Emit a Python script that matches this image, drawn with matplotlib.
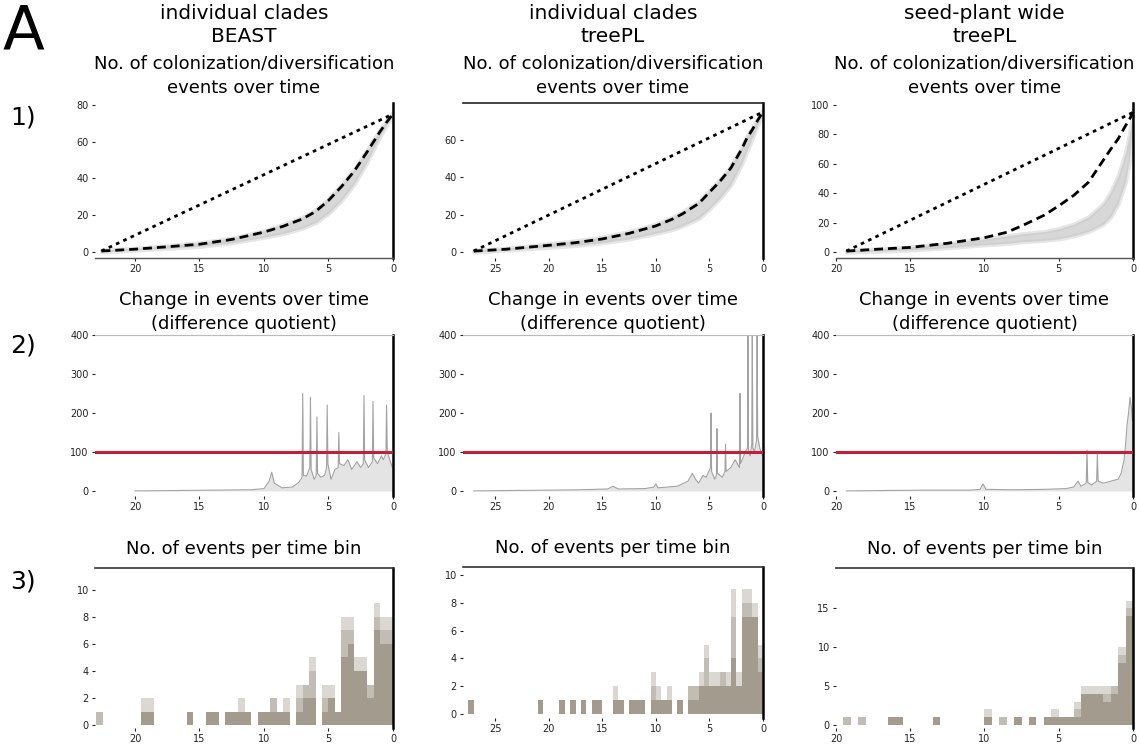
import matplotlib.pyplot as plt
import numpy as np

# ---- data ---------------------------------------------------------------
col_headers = ['individual clades\nBEAST', 'individual clades\ntreePL', 'seed-plant wide\ntreePL']

# row 1: cumulative events (dashed = mean curve, band = spread across trees)
ltt_beast_t = [22.6, 20, 17.5, 15, 12.5, 10, 8.5, 7, 6, 5, 4, 3, 2, 1.5, 1, 0.5, 0]
ltt_beast_mean = [0.5, 1.5, 2.8, 4.2, 6.8, 10.8, 14, 18, 22, 28, 35.5, 44, 54.5, 60, 65.5, 70.5, 75]
ltt_beast_lo = [0, 1, 2, 3, 5, 8, 10, 13, 16, 21, 28, 37, 49, 56, 63, 69, 75]
ltt_beast_hi = [1, 2, 3.5, 5, 7.5, 11.5, 15, 19, 23, 29, 36.5, 45, 55.5, 61, 66.5, 71.5, 76]

ltt_tpl_t = [27, 24, 20, 17.5, 15, 12.5, 10, 8.5, 7.5, 6, 5, 4, 3, 2, 1.5, 1, 0.5, 0]
ltt_tpl_mean = [0.5, 1.5, 3.6, 5, 7, 10, 14, 17.5, 20.5, 26, 32, 38, 45, 55, 61, 65.5, 70.5, 75]
ltt_tpl_lo = [0, 1, 2.5, 3.5, 5, 7, 10, 12, 14, 18, 23, 29, 36, 47, 54, 61, 68, 75]
ltt_tpl_hi = [1, 2, 4.5, 6, 8, 11, 15, 18.5, 21.5, 27, 33, 39, 46, 56, 62, 66.5, 71.5, 76]

ltt_seed_t = [19.3, 17.5, 15, 12.5, 10, 8.5, 7.5, 6, 5, 4, 3, 2, 1.5, 1, 0.5, 0.25, 0]
ltt_seed_mean = [0.7, 1.8, 3.2, 6, 9.8, 13.5, 17.8, 25, 31.5, 38.5, 47.5, 62.5, 70, 77, 86, 90, 95]
ltt_seed_lo = [0, 0.5, 1.5, 3, 5, 6, 7, 8, 9, 11, 14, 19, 24, 33, 48, 62, 90]
ltt_seed_hi = [1, 2, 3.5, 6, 9, 11, 12.5, 14, 16, 19, 24, 33, 41, 52, 68, 80, 95]

# row 2: difference quotient of the event curve
dq_beast_t = [20.0, 17.0, 14.0, 11.0, 10.0, 9.6, 9.4, 9.2, 8.6, 7.8, 7.3, 7.05, 7.0, 6.95, 6.7, 6.45,
              6.4, 6.35, 6.1, 5.95, 5.9, 5.85, 5.6, 5.3, 5.15, 5.1, 5.05, 4.8, 4.5, 4.25, 4.2, 4.15,
              3.8, 3.5, 3.2, 2.8, 2.5, 2.3, 2.25, 2.2, 1.9, 1.6, 1.55, 1.5, 1.2, 0.9, 0.75, 0.55,
              0.5, 0.45, 0.25, 0.05]
dq_beast_v = [0, 1, 2, 3, 6, 25, 48, 20, 8, 10, 22, 35, 250, 40, 38, 60,
              240, 55, 30, 40, 190, 45, 35, 40, 60, 220, 70, 30, 55, 60, 150, 70,
              65, 80, 55, 75, 60, 70, 245, 80, 60, 75, 230, 85, 70, 90, 80, 95,
              220, 100, 80, 60]

dq_tpl_t = [27.0, 24.0, 20.0, 17.0, 14.5, 14.0, 13.5, 11.0, 10.2, 10.0, 9.8, 8.0, 7.0, 6.6, 6.3, 6.0,
            5.6, 5.3, 4.9, 4.85, 4.8, 4.5, 4.35, 4.3, 4.25, 3.8, 3.55, 3.5, 3.45, 3.0, 2.6, 2.2,
            2.15, 2.1, 1.8, 1.45, 1.4, 1.35, 1.2, 1.05, 1.0, 0.95, 0.8, 0.6, 0.55, 0.5, 0.3, 0.05]
dq_tpl_v = [0, 1, 2, 3, 5, 12, 5, 6, 10, 18, 8, 12, 25, 45, 30, 20,
            40, 35, 60, 200, 50, 30, 40, 160, 45, 35, 50, 120, 50, 60, 80, 60,
            250, 70, 90, 110, 420, 100, 90, 120, 420, 110, 100, 130, 420, 140, 110, 90]

dq_seed_t = [19.3, 17.0, 14.0, 11.0, 10.3, 10.1, 9.9, 8.0, 6.0, 4.5, 4.0, 3.7, 3.5, 3.15, 3.1, 3.05,
             2.8, 2.45, 2.4, 2.35, 2.0, 1.5, 1.0, 0.8, 0.6, 0.5, 0.4, 0.3, 0.2, 0.1, 0.03]
dq_seed_v = [0, 1, 2, 2, 4, 18, 4, 3, 4, 6, 10, 25, 12, 20, 105, 22,
             15, 25, 95, 25, 20, 25, 30, 45, 80, 120, 170, 200, 240, 210, 180]

dq_threshold = 100

# row 3: events per 0.5 Myr bin, youngest bin first; three tree samples overlaid
bin_width = 0.5
hist_beast_lo = [6, 6, 7, 2, 4, 4, 6, 5, 1, 2, 1, 0, 2, 2, 1, 0, 1, 1, 1, 1, 1, 0, 1,
                 1, 1, 1, 0, 1, 1, 0, 0, 1, 0, 0, 0, 0, 0, 1, 1, 0, 0, 0, 0, 0, 0, 0]
hist_beast_mid = [7, 7, 8, 3, 4, 4, 7, 7, 1, 2, 2, 0, 4, 3, 2, 0, 1, 1, 2, 1, 1, 0, 1,
                  1, 1, 1, 0, 1, 1, 0, 0, 1, 0, 0, 0, 0, 0, 1, 1, 0, 0, 0, 0, 0, 0, 1]
hist_beast_hi = [8, 8, 9, 3, 5, 5, 8, 8, 1, 3, 3, 0, 5, 3, 3, 0, 2, 1, 2, 1, 1, 0, 1,
                 2, 1, 1, 0, 1, 1, 0, 0, 1, 0, 0, 0, 0, 0, 2, 2, 0, 0, 0, 0, 0, 0, 1]

hist_tpl_lo = [3, 7, 7, 7, 2, 4, 2, 2, 2, 2, 2, 2, 1, 1, 0, 1, 0, 1, 1, 1, 1, 0, 1, 1, 1, 0, 1, 1,
               0, 0, 1, 1, 0, 1, 0, 1, 0, 1, 0, 0, 0, 1, 0, 0, 0, 0, 0, 0, 0, 0, 0, 0, 0, 0, 1]
hist_tpl_mid = [4, 7, 8, 8, 2, 7, 2, 3, 2, 2, 4, 2, 2, 2, 0, 1, 0, 1, 1, 1, 2, 0, 1, 1, 1, 0, 1, 1,
                0, 0, 1, 1, 0, 1, 0, 1, 0, 1, 0, 0, 0, 1, 0, 0, 0, 0, 0, 0, 0, 0, 0, 0, 0, 0, 1]
hist_tpl_hi = [5, 8, 9, 9, 3, 9, 3, 3, 3, 3, 5, 3, 2, 2, 0, 1, 0, 2, 1, 2, 3, 0, 1, 1, 1, 0, 1, 2,
               0, 0, 1, 1, 0, 1, 0, 1, 0, 1, 0, 0, 0, 1, 0, 0, 0, 0, 0, 0, 0, 0, 0, 0, 0, 0, 1]

hist_seed_lo = [14, 8, 4, 3, 4, 4, 4, 1, 1, 1, 1, 1, 0, 1, 0, 1, 0, 0, 0, 1,
                0, 0, 0, 0, 0, 0, 1, 0, 0, 0, 0, 1, 1, 0, 0, 0, 0, 0, 0, 0]
hist_seed_mid = [15, 9, 5, 4, 4, 4, 4, 2, 1, 1, 1, 1, 0, 1, 0, 1, 0, 1, 0, 1,
                 0, 0, 0, 0, 0, 0, 1, 0, 0, 0, 0, 1, 1, 0, 0, 0, 1, 0, 1, 0]
hist_seed_hi = [16, 10, 5, 5, 5, 5, 5, 3, 1, 1, 2, 1, 0, 1, 0, 1, 0, 1, 0, 2,
                0, 0, 0, 0, 0, 0, 1, 0, 0, 0, 0, 1, 1, 0, 0, 0, 1, 0, 1, 0]

x_ticks = [[20, 15, 10, 5, 0], [25, 20, 15, 10, 5, 0], [20, 15, 10, 5, 0]]
ltt_yticks = [[0, 20, 40, 60, 80], [0, 20, 40, 60], [0, 20, 40, 60, 80, 100]]
dq_yticks = [0, 100, 200, 300, 400]
hist_yticks = [[0, 2, 4, 6, 8, 10], [0, 2, 4, 6, 8, 10], [0, 5, 10, 15]]

# ---- layout -------------------------------------------------------------
W, H = 1140, 746
fig = plt.figure(figsize=(W / 100, H / 100), dpi=100)

col_px = [(95, 393), (463, 763), (836, 1133)]
row_px = [[(103, 258), (103, 258), (103, 258)],
          [(335, 496), (335, 496), (335, 496)],
          [(568, 728), (567, 718), (568, 728)]]
xlims = [(23.1, 0), (28.0, 0), (20.0, 0)]
ltt_ylims = [(-3.3, 81), (-3.2, 79.8), (-4, 101.4)]
hist_ylims = [(-0.2, 11.6), (-0.3, 10.6), (-0.4, 20.2)]


def px_axes(left, top, right, bottom):
    return fig.add_axes([left / W, 1 - bottom / H, (right - left) / W, (bottom - top) / H])


def style_axes(ax, col, top_on, bottom_on, top_color='#555555'):
    for side in ['left', 'top', 'bottom', 'right']:
        ax.spines[side].set_visible(False)
    ax.spines['right'].set_visible(True)
    ax.spines['right'].set_color('black')
    ax.spines['right'].set_linewidth(1.8)
    if top_on:
        ax.spines['top'].set_visible(True)
        ax.spines['top'].set_color(top_color)
        ax.spines['top'].set_linewidth(1.2)
    if bottom_on:
        ax.spines['bottom'].set_visible(True)
        ax.spines['bottom'].set_color('#555555')
        ax.spines['bottom'].set_linewidth(1.0)
    ax.set_xlim(*xlims[col])
    ax.set_xticks(x_ticks[col])
    ax.tick_params(labelsize=7, length=2.5, width=0.8, pad=2, colors='#222222')


ltt_sets = [(ltt_beast_t, ltt_beast_mean, ltt_beast_lo, ltt_beast_hi),
            (ltt_tpl_t, ltt_tpl_mean, ltt_tpl_lo, ltt_tpl_hi),
            (ltt_seed_t, ltt_seed_mean, ltt_seed_lo, ltt_seed_hi)]
dq_sets = [(dq_beast_t, dq_beast_v), (dq_tpl_t, dq_tpl_v), (dq_seed_t, dq_seed_v)]
hist_sets = [(hist_beast_lo, hist_beast_mid, hist_beast_hi),
             (hist_tpl_lo, hist_tpl_mid, hist_tpl_hi),
             (hist_seed_lo, hist_seed_mid, hist_seed_hi)]

hist_color = '#8a7f6e'
title_size = 13

for c in range(3):
    left, right = col_px[c]
    cx = (left + right) / 2 / W
    fig.text(cx, 1 - 25 / H, col_headers[c], ha='center', va='center', fontsize=14.5,
             linespacing=1.3)

    # 1) cumulative events
    t, mean, lo, hi = ltt_sets[c]
    top, bottom = row_px[0][c]
    ax = px_axes(left, top, right, bottom)
    ax.fill_between(t, lo, hi, color='#a8a8a8', alpha=0.45, lw=3, edgecolor='#c8c8c8')
    ax.plot([t[0], t[-1]], [mean[0], mean[-1]], color='black', lw=2, ls=(0, (1.3, 1.6)))
    ax.plot(t, mean, color='black', lw=2, ls=(0, (3.2, 1.8)))
    style_axes(ax, c, top_on=(c == 1), bottom_on=(c != 1), top_color='#222222')
    ax.set_ylim(*ltt_ylims[c])
    ax.set_yticks(ltt_yticks[c])
    ax.set_title('No. of colonization/diversification\nevents over time', fontsize=title_size,
                 pad=7, linespacing=1.45)

    # 2) difference quotient
    t, v = dq_sets[c]
    top, bottom = row_px[1][c]
    ax = px_axes(left, top, right, bottom)
    ax.fill_between(t, 0, v, color='#c4c4c4', alpha=0.45, lw=0)
    ax.plot(t, v, color='#999999', lw=0.8, alpha=0.9)
    ax.axhline(dq_threshold, color='#c41e3a', lw=2.2, zorder=5)
    style_axes(ax, c, top_on=True, bottom_on=False, top_color='#bbbbbb')
    ax.spines['top'].set_linewidth(0.8)
    ax.set_ylim(-13, 400)
    ax.set_yticks(dq_yticks)
    ax.set_title('Change in events over time\n(difference quotient)', fontsize=title_size,
                 pad=4, linespacing=1.45)

    # 3) events per time bin
    lo, mid, hi = hist_sets[c]
    top, bottom = row_px[2][c]
    ax = px_axes(left, top, right, bottom)
    centers = (np.arange(len(lo)) + 0.5) * bin_width
    ax.bar(centers, hi, width=bin_width, color=hist_color, alpha=0.3, lw=0)
    ax.bar(centers, mid, width=bin_width, color=hist_color, alpha=0.3, lw=0)
    ax.bar(centers, lo, width=bin_width, color=hist_color, alpha=0.55, lw=0)
    style_axes(ax, c, top_on=True, bottom_on=False, top_color='#333333')
    ax.set_ylim(*hist_ylims[c])
    ax.set_yticks(hist_yticks[c])
    ax.set_title('No. of events per time bin', fontsize=title_size, pad=10)

fig.text(0.002, 0.997, 'A', fontsize=44, ha='left', va='top')
for label, y in [('1)', 118), ('2)', 345), ('3)', 582)]:
    fig.text(10 / W, 1 - y / H, label, fontsize=18, ha='left', va='center')

fig.savefig('out.png', dpi=100)
